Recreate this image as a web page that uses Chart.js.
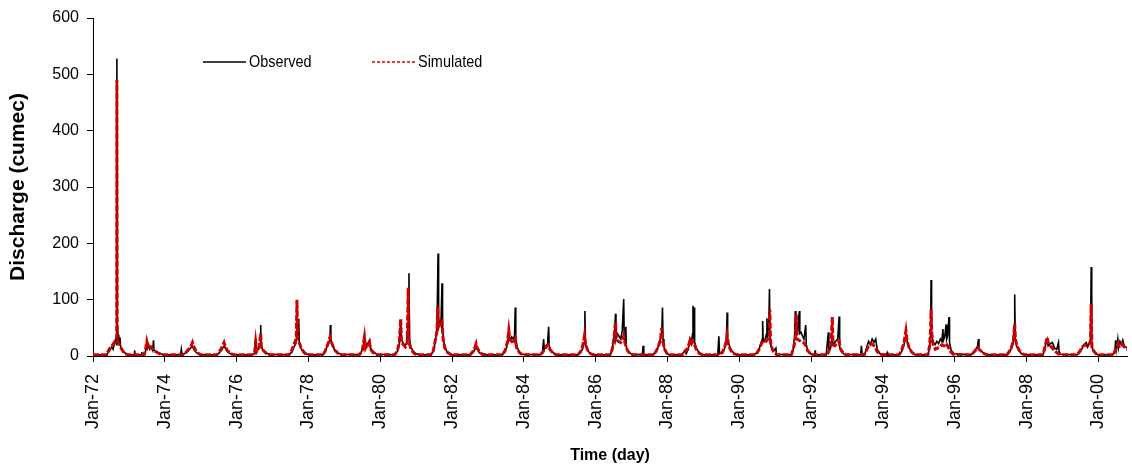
<!DOCTYPE html>
<html>
<head>
<meta charset="utf-8">
<title>Observed vs simulated discharge</title>
<script src="https://cdn.jsdelivr.net/npm/chart.js@4.4.1/dist/chart.umd.min.js"></script>
<style>
    body { margin: 0; background: #ffffff; }
    #grafico { display: block; }
</style>
</head>
<body>
<canvas id="grafico" width="1132" height="469"></canvas>
<script>
// Ticks del eje X (años) y sus etiquetas
const tickAnios = [1972, 1974, 1976, 1978, 1980, 1982, 1984, 1986, 1988, 1990, 1992, 1994, 1996, 1998, 2000];
const tickEtiquetas = ['Jan-72', 'Jan-74', 'Jan-76', 'Jan-78', 'Jan-80', 'Jan-82', 'Jan-84', 'Jan-86',
    'Jan-88', 'Jan-90', 'Jan-92', 'Jan-94', 'Jan-96', 'Jan-98', 'Jan-00'];

const observado = [
    [1972.00, 2], [1972.38, 2], [1972.42, 6], [1972.47, 10], [1972.52, 16], [1972.56, 12], [1972.60, 24], [1972.63, 30],
    [1972.655, 20], [1972.665, 528], [1972.675, 40], [1972.685, 52], [1972.70, 30], [1972.715, 38], [1972.73, 22],
    [1972.75, 33], [1972.77, 16], [1972.81, 12], [1972.86, 7], [1972.92, 4], [1972.98, 2],
    [1973.15, 2], [1973.16, 10], [1973.17, 2], [1973.35, 2], [1973.36, 7], [1973.37, 2],
    [1973.44, 3], [1973.47, 10], [1973.50, 22], [1973.52, 14], [1973.55, 20], [1973.58, 12], [1973.62, 16], [1973.66, 10],
    [1973.685, 28], [1973.70, 10], [1973.76, 8], [1973.84, 5], [1973.92, 3], [1974.00, 2],
    [1974.44, 2], [1974.46, 12], [1974.48, 3], [1974.60, 6], [1974.66, 10], [1974.72, 14], [1974.76, 18], [1974.79, 14],
    [1974.84, 9], [1974.90, 5], [1974.98, 2],
    [1975.45, 2], [1975.52, 6], [1975.58, 10], [1975.63, 16], [1975.66, 18], [1975.70, 12], [1975.76, 7], [1975.85, 3], [1975.95, 2],
    [1976.40, 2], [1976.50, 4], [1976.53, 30], [1976.55, 8], [1976.60, 12], [1976.66, 20], [1976.67, 55], [1976.685, 18],
    [1976.72, 12], [1976.80, 6], [1976.90, 3],
    [1977.45, 2], [1977.55, 8], [1977.60, 16], [1977.65, 22], [1977.68, 40], [1977.70, 30], [1977.73, 66], [1977.745, 25],
    [1977.78, 15], [1977.84, 8], [1977.92, 4], [1978.05, 2],
    [1978.40, 2], [1978.45, 6], [1978.50, 14], [1978.55, 20], [1978.60, 30], [1978.61, 55], [1978.625, 28], [1978.66, 22],
    [1978.72, 12], [1978.80, 6], [1978.90, 3],
    [1979.40, 2], [1979.48, 8], [1979.53, 18], [1979.56, 35], [1979.58, 16], [1979.63, 20], [1979.67, 24], [1979.70, 28],
    [1979.73, 14], [1979.80, 8], [1979.90, 3],
    [1980.40, 2], [1980.48, 8], [1980.53, 20], [1980.57, 62], [1980.59, 30], [1980.63, 24], [1980.68, 18], [1980.73, 22],
    [1980.78, 60], [1980.80, 147], [1980.815, 30], [1980.85, 16], [1980.92, 8], [1981.00, 4], [1981.10, 2],
    [1981.40, 2], [1981.48, 8], [1981.54, 30], [1981.58, 50], [1981.61, 182], [1981.625, 60], [1981.66, 62], [1981.69, 55],
    [1981.72, 129], [1981.735, 50], [1981.76, 30], [1981.80, 14], [1981.88, 6], [1981.98, 2],
    [1982.50, 2], [1982.58, 6], [1982.64, 12], [1982.67, 18], [1982.70, 12], [1982.76, 6], [1982.85, 2],
    [1983.40, 2], [1983.48, 8], [1983.54, 20], [1983.58, 40], [1983.62, 28], [1983.66, 34], [1983.70, 30], [1983.74, 36],
    [1983.76, 86], [1983.775, 30], [1983.80, 18], [1983.86, 8], [1983.95, 3],
    [1984.45, 2], [1984.52, 8], [1984.55, 30], [1984.57, 12], [1984.62, 18], [1984.66, 22], [1984.69, 52], [1984.705, 18],
    [1984.75, 10], [1984.85, 4], [1984.95, 2],
    [1985.50, 2], [1985.58, 6], [1985.64, 14], [1985.68, 24], [1985.70, 80], [1985.715, 22], [1985.75, 14], [1985.82, 6], [1985.92, 2],
    [1986.40, 2], [1986.46, 10], [1986.50, 30], [1986.53, 40], [1986.55, 75], [1986.565, 30], [1986.60, 40], [1986.65, 35],
    [1986.70, 30], [1986.74, 45], [1986.78, 101], [1986.795, 30], [1986.82, 28], [1986.84, 52], [1986.855, 16], [1986.90, 8], [1987.00, 3],
    [1987.30, 2], [1987.32, 18], [1987.34, 2], [1987.60, 2], [1987.68, 8], [1987.74, 16], [1987.80, 30], [1987.84, 40],
    [1987.86, 86], [1987.875, 30], [1987.90, 16], [1987.96, 6], [1988.05, 2],
    [1988.40, 2], [1988.48, 10], [1988.52, 4], [1988.58, 12], [1988.62, 30], [1988.66, 22], [1988.70, 40], [1988.71, 89],
    [1988.72, 30], [1988.74, 86], [1988.755, 25], [1988.80, 14], [1988.88, 6], [1988.98, 2],
    [1989.40, 2], [1989.43, 35], [1989.45, 4], [1989.55, 6], [1989.60, 16], [1989.64, 30], [1989.66, 77], [1989.675, 30],
    [1989.70, 22], [1989.76, 12], [1989.85, 5], [1989.95, 2],
    [1990.40, 2], [1990.50, 6], [1990.56, 14], [1990.60, 22], [1990.64, 30], [1990.65, 62], [1990.665, 25], [1990.72, 30],
    [1990.76, 40], [1990.77, 67], [1990.785, 30], [1990.82, 50], [1990.84, 119], [1990.855, 30], [1990.88, 18], [1990.94, 8],
    [1991.02, 14], [1991.03, 3],
    [1991.45, 2], [1991.50, 12], [1991.54, 35], [1991.56, 80], [1991.575, 40], [1991.60, 50], [1991.63, 45], [1991.67, 80],
    [1991.685, 40], [1991.72, 42], [1991.76, 35], [1991.80, 30], [1991.85, 55], [1991.865, 20], [1991.90, 10], [1991.98, 4],
    [1992.10, 2], [1992.11, 10], [1992.12, 2], [1992.42, 2], [1992.48, 42], [1992.495, 8], [1992.54, 14], [1992.58, 30],
    [1992.62, 20], [1992.68, 26], [1992.74, 30], [1992.78, 70], [1992.795, 16], [1992.84, 8], [1992.92, 3],
    [1993.38, 2], [1993.40, 18], [1993.42, 2], [1993.50, 4], [1993.55, 16], [1993.60, 26], [1993.65, 20], [1993.70, 30],
    [1993.75, 24], [1993.80, 30], [1993.84, 12], [1993.92, 4], [1994.10, 2], [1994.12, 6], [1994.14, 2],
    [1994.45, 2], [1994.52, 8], [1994.58, 18], [1994.62, 30], [1994.64, 40], [1994.67, 28], [1994.72, 16], [1994.80, 7], [1994.90, 2],
    [1995.25, 2], [1995.30, 14], [1995.33, 40], [1995.34, 135], [1995.355, 40], [1995.40, 24], [1995.45, 20], [1995.50, 26],
    [1995.55, 22], [1995.60, 30], [1995.64, 26], [1995.67, 48], [1995.685, 28], [1995.72, 34], [1995.76, 56], [1995.775, 30],
    [1995.80, 36], [1995.84, 69], [1995.855, 24], [1995.90, 10], [1995.98, 4],
    [1996.45, 2], [1996.52, 6], [1996.58, 12], [1996.63, 16], [1996.66, 30], [1996.675, 12], [1996.72, 10], [1996.80, 5], [1996.90, 2],
    [1997.45, 2], [1997.52, 6], [1997.58, 14], [1997.63, 26], [1997.66, 50], [1997.67, 109], [1997.685, 30], [1997.72, 18],
    [1997.78, 10], [1997.86, 4], [1997.95, 2],
    [1998.45, 2], [1998.50, 10], [1998.54, 24], [1998.57, 30], [1998.60, 18], [1998.66, 22], [1998.72, 24], [1998.78, 14],
    [1998.84, 12], [1998.89, 24], [1998.905, 8], [1998.95, 3],
    [1999.40, 2], [1999.48, 6], [1999.55, 14], [1999.60, 20], [1999.66, 24], [1999.70, 16], [1999.74, 22], [1999.78, 30],
    [1999.80, 158], [1999.815, 20], [1999.85, 10], [1999.92, 4], [2000.00, 2],
    [2000.40, 2], [2000.46, 8], [2000.48, 28], [2000.50, 12], [2000.54, 30], [2000.56, 14], [2000.60, 26], [2000.64, 20],
    [2000.68, 28], [2000.72, 18], [2000.80, 14]
];

// Caudal simulado [año decimal, cumec]
const simulado = [
    [1972.00, 2], [1972.38, 2], [1972.42, 8], [1972.47, 14], [1972.52, 18], [1972.57, 22], [1972.61, 26], [1972.64, 28],
    [1972.66, 30], [1972.665, 490], [1972.675, 28], [1972.70, 24], [1972.74, 20], [1972.78, 14], [1972.84, 8], [1972.90, 4], [1972.98, 2],
    [1973.42, 2], [1973.46, 10], [1973.50, 26], [1973.53, 18], [1973.57, 20], [1973.62, 14], [1973.68, 12], [1973.74, 8],
    [1973.82, 5], [1973.92, 2],
    [1974.50, 2], [1974.58, 6], [1974.66, 12], [1974.72, 16], [1974.77, 24], [1974.80, 18], [1974.86, 10], [1974.93, 5], [1975.00, 2],
    [1975.45, 2], [1975.52, 8], [1975.58, 14], [1975.65, 24], [1975.69, 16], [1975.75, 9], [1975.84, 4], [1975.94, 2],
    [1976.42, 2], [1976.50, 6], [1976.53, 25], [1976.56, 8], [1976.62, 14], [1976.67, 40], [1976.69, 16], [1976.74, 10],
    [1976.82, 5], [1976.92, 2],
    [1977.45, 2], [1977.52, 8], [1977.58, 18], [1977.63, 26], [1977.66, 30], [1977.68, 100], [1977.70, 30], [1977.74, 24],
    [1977.80, 14], [1977.88, 6], [1977.98, 2],
    [1978.40, 2], [1978.46, 8], [1978.52, 18], [1978.57, 26], [1978.60, 34], [1978.63, 26], [1978.68, 18], [1978.74, 10],
    [1978.82, 5], [1978.92, 2],
    [1979.42, 2], [1979.50, 10], [1979.56, 34], [1979.59, 14], [1979.64, 20], [1979.70, 25], [1979.73, 12], [1979.80, 6], [1979.90, 2],
    [1980.40, 2], [1980.48, 10], [1980.53, 24], [1980.57, 66], [1980.59, 26], [1980.64, 20], [1980.70, 16], [1980.75, 22],
    [1980.78, 121], [1980.80, 24], [1980.85, 14], [1980.92, 6], [1981.00, 2],
    [1981.40, 2], [1981.48, 10], [1981.54, 30], [1981.58, 44], [1981.60, 88], [1981.62, 52], [1981.66, 60], [1981.70, 58],
    [1981.72, 60], [1981.75, 30], [1981.80, 14], [1981.88, 6], [1981.98, 2],
    [1982.50, 2], [1982.58, 8], [1982.64, 16], [1982.67, 22], [1982.70, 14], [1982.76, 8], [1982.85, 3], [1982.95, 2],
    [1983.40, 2], [1983.48, 10], [1983.54, 24], [1983.58, 46], [1983.61, 30], [1983.66, 26], [1983.72, 22], [1983.76, 30],
    [1983.80, 14], [1983.88, 6], [1983.96, 2],
    [1984.45, 2], [1984.52, 6], [1984.58, 12], [1984.64, 18], [1984.68, 20], [1984.72, 12], [1984.80, 6], [1984.90, 2],
    [1985.50, 2], [1985.58, 8], [1985.64, 18], [1985.69, 37], [1985.72, 20], [1985.78, 10], [1985.86, 4], [1985.94, 2],
    [1986.40, 2], [1986.46, 12], [1986.51, 30], [1986.55, 60], [1986.58, 30], [1986.63, 26], [1986.69, 24], [1986.74, 28],
    [1986.78, 35], [1986.82, 22], [1986.88, 10], [1986.96, 4], [1987.05, 2],
    [1987.60, 2], [1987.68, 8], [1987.74, 16], [1987.80, 28], [1987.84, 50], [1987.87, 26], [1987.92, 12], [1987.98, 5], [1988.06, 2],
    [1988.42, 2], [1988.50, 8], [1988.56, 14], [1988.60, 22], [1988.63, 28], [1988.67, 22], [1988.71, 26], [1988.75, 20],
    [1988.80, 12], [1988.88, 5], [1988.98, 2],
    [1989.45, 2], [1989.52, 6], [1989.58, 14], [1989.63, 24], [1989.66, 37], [1989.70, 20], [1989.76, 10], [1989.85, 4], [1989.95, 2],
    [1990.45, 2], [1990.52, 8], [1990.58, 16], [1990.63, 24], [1990.68, 28], [1990.74, 26], [1990.80, 30], [1990.84, 40],
    [1990.85, 83], [1990.87, 24], [1990.92, 12], [1990.98, 5], [1991.06, 2],
    [1991.45, 2], [1991.51, 14], [1991.56, 30], [1991.59, 73], [1991.61, 30], [1991.66, 28], [1991.72, 26], [1991.78, 24],
    [1991.84, 20], [1991.90, 10], [1991.98, 4], [1992.05, 2],
    [1992.45, 2], [1992.50, 10], [1992.55, 18], [1992.59, 69], [1992.61, 20], [1992.66, 18], [1992.72, 22], [1992.78, 26],
    [1992.82, 12], [1992.90, 5], [1992.98, 2],
    [1993.48, 2], [1993.54, 10], [1993.60, 18], [1993.66, 22], [1993.72, 20], [1993.78, 16], [1993.84, 8], [1993.92, 3], [1994.00, 2],
    [1994.45, 2], [1994.52, 10], [1994.58, 22], [1994.64, 45], [1994.67, 28], [1994.72, 16], [1994.80, 7], [1994.90, 2],
    [1995.25, 2], [1995.30, 18], [1995.33, 50], [1995.34, 83], [1995.36, 40], [1995.40, 20], [1995.46, 12], [1995.52, 14],
    [1995.58, 16], [1995.64, 20], [1995.70, 18], [1995.76, 22], [1995.82, 16], [1995.88, 8], [1995.96, 3], [1996.05, 2],
    [1996.45, 2], [1996.52, 6], [1996.58, 10], [1996.64, 15], [1996.68, 12], [1996.74, 8], [1996.82, 4], [1996.92, 2],
    [1997.45, 2], [1997.52, 8], [1997.58, 16], [1997.63, 26], [1997.67, 57], [1997.69, 30], [1997.73, 18], [1997.80, 10],
    [1997.88, 4], [1997.96, 2],
    [1998.45, 2], [1998.50, 12], [1998.54, 24], [1998.57, 33], [1998.61, 22], [1998.66, 18], [1998.72, 14], [1998.80, 8],
    [1998.88, 4], [1998.96, 2],
    [1999.40, 2], [1999.48, 8], [1999.55, 16], [1999.62, 20], [1999.68, 18], [1999.74, 22], [1999.78, 24], [1999.80, 93],
    [1999.82, 16], [1999.88, 8], [1999.96, 3], [2000.05, 2],
    [2000.42, 2], [2000.48, 12], [2000.54, 22], [2000.60, 18], [2000.66, 22], [2000.72, 16], [2000.80, 12]
];

const COLOR_OBS = '#000000';
const COLOR_SIM = '#d00000';
const FUENTE = "'Liberation Sans', Arial, sans-serif";

// Leyenda dibujada dentro del área del gráfico (texto algo comprimido, tipo Arial Narrow)
const leyendaPlugin = {
    id: 'leyendaInterna',
    afterDraw(chart) {
        const ctx = chart.ctx;
        const items = [
            { texto: 'Observed', color: COLOR_OBS, dash: [], x1: 203, x2: 246 },
            { texto: 'Simulated', color: COLOR_SIM, dash: [3, 2], x1: 372, x2: 415 }
        ];
        const y = 62;
        items.forEach(item => {
            ctx.save();
            ctx.beginPath();
            ctx.setLineDash(item.dash);
            ctx.strokeStyle = item.color;
            ctx.lineWidth = 1.5;
            ctx.moveTo(item.x1, y);
            ctx.lineTo(item.x2, y);
            ctx.stroke();
            ctx.setLineDash([]);
            ctx.translate(item.x2 + 3, y);
            ctx.scale(0.85, 1);
            ctx.font = "17px " + FUENTE;
            ctx.textBaseline = 'middle';
            ctx.fillStyle = '#000';
            ctx.fillText(item.texto, 0, 0);
            ctx.restore();
        });
    }
};

function aPuntos(serie) {
    return serie.map(p => ({ x: p[0], y: p[1] }));
}

function crearGrafico() {
    const ctx = document.getElementById('grafico').getContext('2d');

    new Chart(ctx, {
        type: 'line',
        data: {
            datasets: [
                {
                    label: 'Observed',
                    data: aPuntos(observado),
                    borderColor: COLOR_OBS,
                    borderWidth: 1.6,
                    pointRadius: 0,
                    tension: 0,
                    order: 1
                },
                {
                    label: 'Simulated',
                    data: aPuntos(simulado),
                    borderColor: COLOR_SIM,
                    borderWidth: 3,
                    borderDash: [6, 2],
                    pointRadius: 0,
                    tension: 0,
                    order: 0
                }
            ]
        },
        options: {
            responsive: false,
            animation: false,
            layout: { padding: { top: 18, right: 1, left: 0, bottom: 0 } },
            plugins: {
                legend: { display: false },
                tooltip: { enabled: false }
            },
            scales: {
                x: {
                    type: 'linear',
                    min: 1972,
                    max: 2000.8,
                    afterBuildTicks: scale => {
                        scale.ticks = tickAnios.map(v => ({ value: v }));
                    },
                    afterFit: scale => { scale.height = 113; },
                    ticks: {
                        autoSkip: false,
                        maxRotation: 90,
                        minRotation: 90,
                        padding: 12,
                        color: '#000',
                        font: { family: FUENTE, size: 18 },
                        callback: value => tickEtiquetas[tickAnios.indexOf(value)]
                    },
                    grid: { drawOnChartArea: false, drawTicks: true, tickLength: 6, color: '#000' },
                    border: { display: true, color: '#000', width: 1 },
                    title: {
                        display: true,
                        text: 'Time (day)',
                        color: '#000',
                        font: { family: FUENTE, size: 16, weight: 'bold' },
                        padding: { top: 0, bottom: 4 }
                    }
                },
                y: {
                    min: 0,
                    max: 600,
                    afterFit: scale => { scale.width = 93; },
                    ticks: {
                        stepSize: 100,
                        padding: 8,
                        color: '#000',
                        font: { family: FUENTE, size: 16 }
                    },
                    grid: { drawOnChartArea: false, drawTicks: true, tickLength: 6, color: '#000' },
                    border: { display: true, color: '#000', width: 1 },
                    title: {
                        display: true,
                        text: 'Discharge (cumec)',
                        color: '#000',
                        font: { family: FUENTE, size: 21, weight: 'bold' },
                        padding: { top: 6, bottom: 0 }
                    }
                }
            }
        },
        plugins: [leyendaPlugin]
    });
}

crearGrafico();
</script>
</body>
</html>
